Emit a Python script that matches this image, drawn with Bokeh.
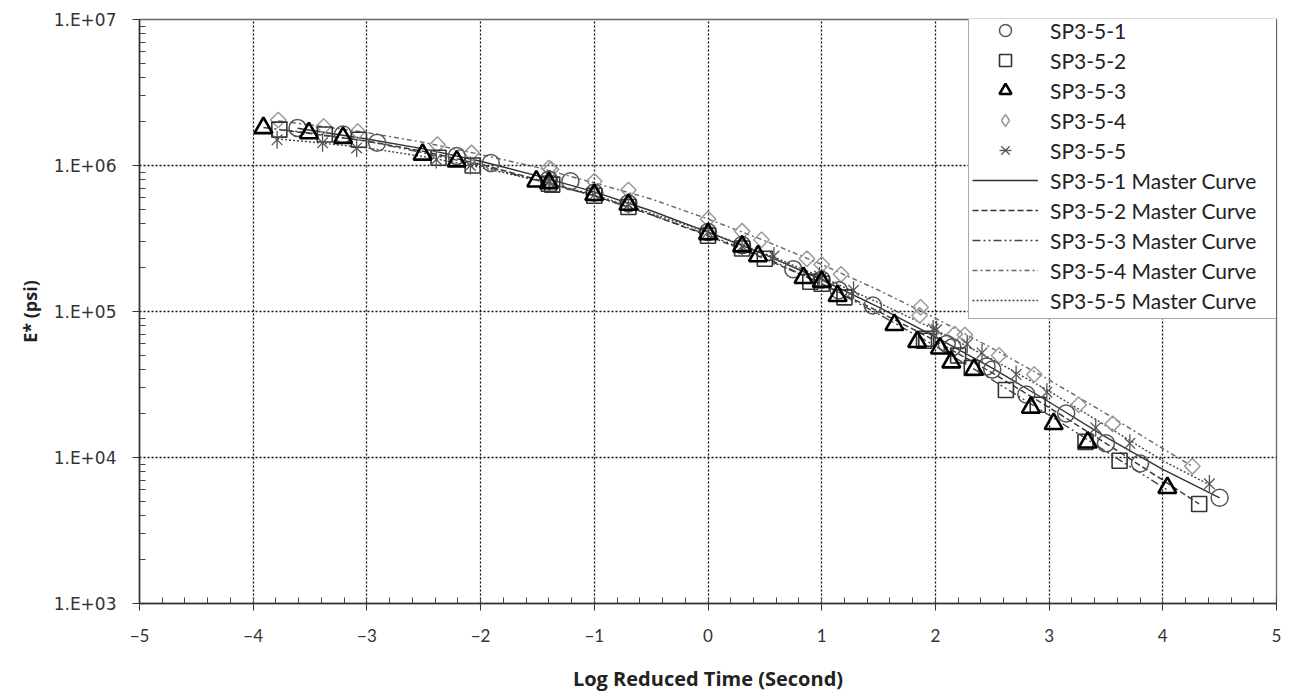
import numpy as np
from bokeh.plotting import figure
from bokeh.models import (FixedTicker, CustomJSTickFormatter, Legend, LegendItem,
                          Range1d)
from bokeh.embed import file_html
from bokeh.resources import INLINE

# ---------------- data ----------------
x_ticks = [-5, -4, -3, -2, -1, 0, 1, 2, 3, 4, 5]
y_ticks = [1e3, 1e4, 1e5, 1e6, 1e7]

series_names = ["SP3-5-1", "SP3-5-2", "SP3-5-3", "SP3-5-4", "SP3-5-5"]

sp1_x = [-3.61, -3.21, -2.91, -2.21, -1.91, -1.21, -1.40, -1.00, -0.70, 0.00, 0.30, 1.00,
         0.75, 1.15, 1.45, 2.15, 2.45, 3.15, 2.10, 2.50, 2.80, 3.50, 3.80, 4.50]
sp1_y = [1.81e6, 1.63e6, 1.43e6, 1.16e6, 1.04e6, 7.8e5, 8.0e5, 6.5e5, 5.5e5, 3.5e5, 2.85e5, 1.65e5,
         1.95e5, 1.4e5, 1.1e5, 5.7e4, 4.2e4, 2.0e4, 6.0e4, 4.0e4, 2.7e4, 1.25e4, 9.1e3, 5.3e3]

sp2_x = [-3.77, -3.37, -3.07, -2.37, -2.07, -1.37, -1.40, -1.00, -0.70, 0.00, 0.30, 1.00,
         0.50, 0.90, 1.20, 1.90, 2.20, 2.90, 1.92, 2.32, 2.62, 3.32, 3.62, 4.32]
sp2_y = [1.76e6, 1.63e6, 1.5e6, 1.13e6, 1.0e6, 7.4e5, 7.5e5, 6.2e5, 5.2e5, 3.3e5, 2.7e5, 1.55e5,
         2.3e5, 1.6e5, 1.25e5, 6.3e4, 5.0e4, 2.3e4, 6.5e4, 4.1e4, 2.9e4, 1.28e4, 9.5e3, 4.8e3]

sp3_x = [-3.91, -3.51, -3.21, -2.51, -2.21, -1.51, -1.40, -1.00, -0.70, 0.00, 0.30, 1.00,
         0.44, 0.84, 1.14, 1.84, 2.14, 2.84, 1.64, 2.04, 2.34, 3.04, 3.34, 4.04]
sp3_y = [1.81e6, 1.67e6, 1.55e6, 1.19e6, 1.07e6, 7.8e5, 7.6e5, 6.3e5, 5.4e5, 3.4e5, 2.8e5, 1.6e5,
         2.4e5, 1.7e5, 1.28e5, 6.2e4, 4.5e4, 2.2e4, 8.1e4, 5.6e4, 4.0e4, 1.7e4, 1.27e4, 6.2e3]

sp4_x = [-3.78, -3.38, -3.08, -2.38, -2.08, -1.38, -1.40, -1.00, -0.70, 0.00, 0.30, 1.00,
         0.47, 0.87, 1.17, 1.87, 2.17, 2.87, 1.86, 2.26, 2.56, 3.26, 3.56, 4.26]
sp4_y = [2.05e6, 1.85e6, 1.71e6, 1.39e6, 1.22e6, 9.4e5, 9.6e5, 7.8e5, 6.8e5, 4.3e5, 3.55e5, 2.1e5,
         3.1e5, 2.3e5, 1.8e5, 1.07e5, 7.0e4, 3.7e4, 9.4e4, 6.9e4, 5.0e4, 2.3e4, 1.7e4, 8.7e3]

sp5_x = [-3.79, -3.39, -3.09, -2.39, -2.09, -1.39, -1.40, -1.00, -0.70, 0.00, 0.30, 1.00,
         0.58, 0.98, 1.28, 1.98, 2.28, 2.98, 2.01, 2.41, 2.71, 3.41, 3.71, 4.41]
sp5_y = [1.5e6, 1.43e6, 1.32e6, 1.1e6, 1.0e6, 7.8e5, 7.7e5, 6.3e5, 5.4e5, 3.5e5, 2.8e5, 1.7e5,
         2.4e5, 1.75e5, 1.4e5, 7.6e4, 6.0e4, 2.8e4, 7.5e4, 5.2e4, 3.7e4, 1.6e4, 1.25e4, 6.6e3]

# master curves
mc1_x = [-3.61, -3.0, -2.5, -2.0, -1.5, -1.0, -0.5, 0.0, 0.5, 1.0, 1.5, 2.0, 2.5, 3.0, 3.5, 4.0, 4.5]
mc1_y = [1.8e6, 1.52e6, 1.3e6, 1.07e6, 8.5e5, 6.6e5, 4.9e5, 3.5e5, 2.45e5, 1.65e5, 1.07e5, 6.7e4,
         4.1e4, 2.4e4, 1.38e4, 8.3e3, 5.3e3]
mc2_x = [-3.77, -3.0, -2.5, -2.0, -1.5, -1.0, -0.5, 0.0, 0.5, 1.0, 1.5, 2.0, 2.5, 3.0, 3.5, 4.0, 4.32]
mc2_y = [1.76e6, 1.47e6, 1.25e6, 1.02e6, 8.0e5, 6.2e5, 4.6e5, 3.3e5, 2.3e5, 1.55e5, 1.0e5, 6.3e4,
         3.8e4, 2.2e4, 1.25e4, 7.0e3, 4.8e3]
mc3_x = [-3.91, -3.5, -3.0, -2.5, -2.0, -1.5, -1.0, -0.5, 0.0, 0.5, 1.0, 1.5, 2.0, 2.5, 3.0, 3.5, 4.04]
mc3_y = [1.82e6, 1.67e6, 1.47e6, 1.22e6, 1.0e6, 7.9e5, 6.2e5, 4.6e5, 3.35e5, 2.35e5, 1.55e5, 9.6e4,
         5.8e4, 3.4e4, 1.95e4, 1.1e4, 6.0e3]
mc4_x = [-3.78, -3.5, -3.0, -2.5, -2.0, -1.5, -1.0, -0.5, 0.0, 0.5, 1.0, 1.5, 2.0, 2.5, 3.0, 3.5, 4.0, 4.26]
mc4_y = [2.02e6, 1.9e6, 1.68e6, 1.44e6, 1.19e6, 9.7e5, 7.6e5, 5.9e5, 4.3e5, 3.05e5, 2.1e5, 1.4e5,
         9.0e4, 5.6e4, 3.4e4, 2.0e4, 1.15e4, 8.7e3]
mc5_x = [-3.79, -3.5, -3.0, -2.5, -2.0, -1.5, -1.0, -0.5, 0.0, 0.5, 1.0, 1.5, 2.0, 2.5, 3.0, 3.5, 4.0, 4.41]
mc5_y = [1.52e6, 1.45e6, 1.32e6, 1.15e6, 9.7e5, 7.9e5, 6.3e5, 4.7e5, 3.5e5, 2.5e5, 1.72e5, 1.15e5,
         7.5e4, 4.7e4, 2.85e4, 1.65e4, 9.5e3, 6.5e3]

# ---------------- figure ----------------
p = figure(width=1291, height=694, y_axis_type="log",
           x_range=Range1d(-5, 5), y_range=Range1d(1e3, 1e7),
           output_backend="svg", toolbar_location=None,
           min_border_left=139, min_border_right=15, min_border_top=19, min_border_bottom=88)
p.background_fill_color = "white"
p.border_fill_color = "white"
p.outline_line_color = "#666666"
p.outline_line_width = 1.3

x_minor = [round(v, 2) for v in np.arange(-5, 5.001, 0.2)]
y_minor = [m * 10 ** e for e in range(3, 7) for m in range(2, 10)]
p.xaxis.ticker = FixedTicker(ticks=x_ticks, minor_ticks=x_minor)
p.yaxis.ticker = FixedTicker(ticks=y_ticks, minor_ticks=y_minor)
p.yaxis.formatter = CustomJSTickFormatter(
    code="const e = Math.round(Math.log10(tick)); return '1.E+' + (e < 10 ? '0' : '') + e;")

for ax in (p.xaxis[0], p.yaxis[0]):
    ax.axis_line_color = "#333333"
    ax.axis_line_width = 1.6
    ax.major_tick_line_color = "#333333"
    ax.minor_tick_line_color = "#444444"
    ax.major_tick_in = 0
    ax.major_tick_out = 7
    ax.minor_tick_in = 6
    ax.minor_tick_out = 0
    ax.major_label_text_color = "#333333"
    ax.axis_label_text_color = "#222222"
    ax.axis_label_text_font_style = "bold"

p.xaxis.major_label_text_font = "Lato"
p.xaxis.major_label_text_font_size = "17px"
p.xaxis.major_label_standoff = 18
p.xaxis.axis_label = "Log Reduced Time (Second)"
p.xaxis.axis_label_text_font = "Open Sans"
p.xaxis.axis_label_text_font_size = "20px"
p.xaxis.axis_label_standoff = 20

p.yaxis.major_label_text_font = "DejaVu Sans"
p.yaxis.major_label_text_font_size = "17px"
p.yaxis.major_label_standoff = 16
p.yaxis.axis_label = "E* (psi)"
p.yaxis.axis_label_text_font = "Open Sans"
p.yaxis.axis_label_text_font_size = "18px"
p.yaxis.axis_label_standoff = 9

p.xgrid.ticker = FixedTicker(ticks=x_ticks)
p.ygrid.ticker = FixedTicker(ticks=y_ticks)
for g in (p.xgrid[0], p.ygrid[0]):
    g.grid_line_color = "#111111"
    g.grid_line_dash = "2 2"
    g.grid_line_width = 1.3

# ---------------- master curves ----------------
curve_style = [
    (mc1_x, mc1_y, "solid", "#333333"),
    (mc2_x, mc2_y, "6 3", "#333333"),
    (mc3_x, mc3_y, "8 3 2 3 2 3", "#444444"),
    (mc4_x, mc4_y, "5 3 2 3", "#666666"),
    (mc5_x, mc5_y, "2 2", "#444444"),
]
curve_renderers = []
for cx, cy, dash, col in curve_style:
    r = p.line(cx, cy, line_color=col, line_width=1.4, line_dash=dash)
    curve_renderers.append(r)

# ---------------- data points ----------------
r4 = p.scatter(sp4_x, sp4_y, marker="square", size=11, angle=np.pi / 4, fill_color=None,
               line_color="#9a9a9a", line_width=1.5)
# legend swatch for the diamonds (rotated squares are not rotated in legends)
r4_leg = p.scatter(sp4_x[:1], sp4_y[:1], marker="diamond", size=16, fill_color=None,
                   line_color="#9a9a9a", line_width=1.5, visible=False)
r1 = p.scatter(sp1_x, sp1_y, marker="circle", size=17, fill_color=None,
               line_color="#555555", line_width=1.5)
r2 = p.scatter(sp2_x, sp2_y, marker="square", size=15, fill_color=None,
               line_color="#333333", line_width=1.6)
r5a = p.scatter(sp5_x, sp5_y, marker="x", size=15, line_color="#555555", line_width=1.3)
r5b = p.scatter(sp5_x, sp5_y, marker="dash", size=18, angle=np.pi / 2,
                line_color="#555555", line_width=1.3)
r3 = p.scatter(sp3_x, sp3_y, marker="triangle", size=18, fill_color=None,
               line_color="#000000", line_width=2.6)

items = [
    LegendItem(label=series_names[0], renderers=[r1]),
    LegendItem(label=series_names[1], renderers=[r2]),
    LegendItem(label=series_names[2], renderers=[r3]),
    LegendItem(label=series_names[3], renderers=[r4_leg]),
    LegendItem(label=series_names[4], renderers=[r5a, r5b]),
]
for name, r in zip(series_names, curve_renderers):
    items.append(LegendItem(label=name + " Master Curve", renderers=[r]))

legend = Legend(items=items, location=(829, 284))
legend.label_text_font = "Lato"
legend.label_text_font_size = "21px"
legend.label_text_color = "#222222"
legend.label_standoff = 12
legend.label_width = 224
legend.glyph_width = 66
legend.glyph_height = 30
legend.label_height = 30
legend.spacing = 0
legend.padding = 3
legend.margin = 0
legend.inactive_fill_alpha = 0.0
legend.border_line_color = "#555555"
legend.border_line_width = 1.3
legend.background_fill_color = "white"
legend.background_fill_alpha = 1.0
p.add_layout(legend, "center")

open("out.html", "w").write(file_html(p, INLINE))
